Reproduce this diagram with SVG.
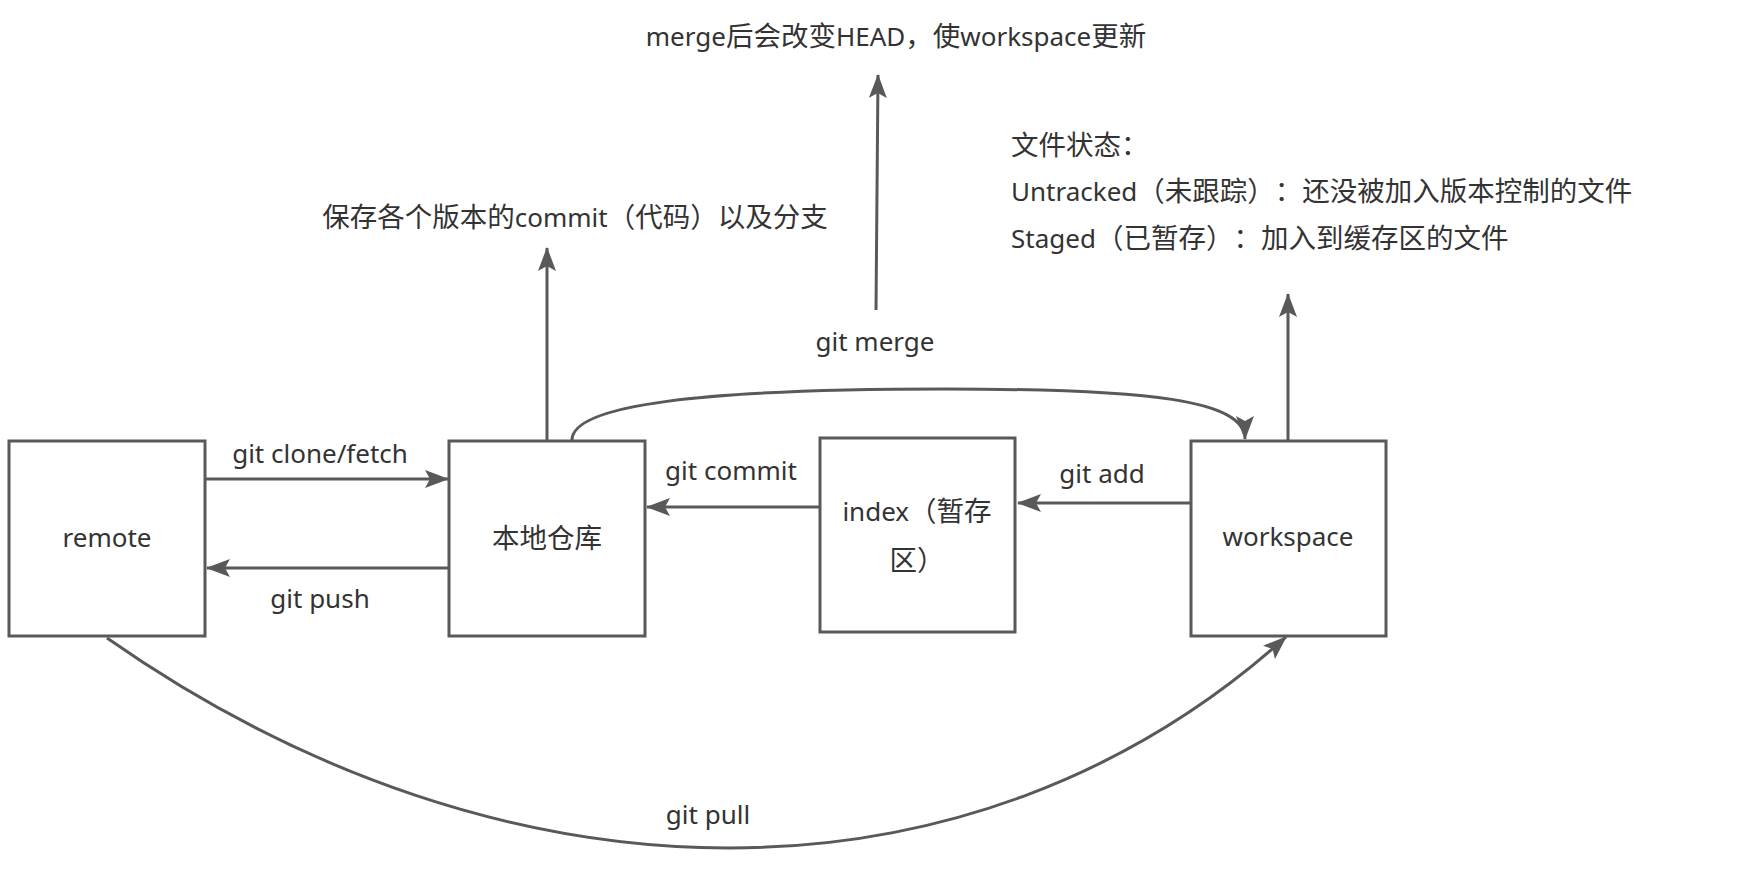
<svg xmlns="http://www.w3.org/2000/svg" width="1740" height="876" viewBox="0 0 1740 876">
<style>
.box{fill:#ffffff;stroke:#595959;stroke-width:3}
.ln{fill:none;stroke:#595959;stroke-width:3}
text{font-family:"Noto Sans","Noto Sans CJK SC",sans-serif;font-size:26px;fill:#333333;text-spacing-trim:space-all}
.c{text-anchor:middle}
.k{font-size:27.5px}
</style>
<defs>
<marker id="arr" markerUnits="userSpaceOnUse" viewBox="0 0 24 18" markerWidth="24" markerHeight="18" refX="23" refY="9" orient="auto">
<path d="M0,0 L24,9 L0,18 L5,9 Z" fill="#595959"/>
</marker>
</defs>
<rect width="1740" height="876" fill="#ffffff"/>
<g id="connectors">
<line class="ln" x1="205" y1="479" x2="448" y2="479" marker-end="url(#arr)"/>
<line class="ln" x1="449" y1="568" x2="207" y2="568" marker-end="url(#arr)"/>
<line class="ln" x1="820" y1="507" x2="647" y2="507" marker-end="url(#arr)"/>
<line class="ln" x1="1191" y1="503" x2="1018" y2="503" marker-end="url(#arr)"/>
<line class="ln" x1="547" y1="441" x2="547" y2="248" marker-end="url(#arr)"/>
<line class="ln" x1="876" y1="310" x2="878" y2="75" marker-end="url(#arr)"/>
<line class="ln" x1="1288" y1="441" x2="1288" y2="294" marker-end="url(#arr)"/>
<path class="ln" d="M572,440 C572,405 700,389 945,389 C1150,389 1245,400 1245,439" marker-end="url(#arr)"/>
<path class="ln" d="M107,638 C505,916.6 972,919.6 1286,637" marker-end="url(#arr)"/>
<text class="c" x="320" y="463">git clone/fetch</text>
<text class="c" x="320" y="608">git push</text>
<text class="c" x="731" y="480">git commit</text>
<text class="c" x="1102" y="483">git add</text>
<text class="c" x="875" y="351">git merge</text>
<text class="c" x="708" y="824">git pull</text>
</g>
<g id="remote">
<rect class="box" x="9" y="441" width="196" height="195"/>
<text class="c" x="107" y="547">remote</text>
</g>
<g id="local">
<rect class="box" x="449" y="441" width="196" height="195"/>
<text class="c k" x="547" y="548">本地仓库</text>
</g>
<g id="index">
<rect class="box" x="820" y="438" width="195" height="194"/>
<text class="c" x="917" y="521">index<tspan class="k">（暂存</tspan></text>
<text class="c k" x="917" y="570">区）</text>
</g>
<g id="workspace">
<rect class="box" x="1191" y="441" width="195" height="195"/>
<text class="c" x="1288" y="546">workspace</text>
</g>
<g id="note-merge">
<text class="c" x="896" y="46">merge<tspan class="k">后会改变</tspan>HEAD<tspan class="k">，使</tspan>workspace<tspan class="k">更新</tspan></text>
</g>
<g id="note-local">
<text class="c" x="575" y="227"><tspan class="k">保存各个版本的</tspan>commit<tspan class="k">（代码）以及分支</tspan></text>
</g>
<g id="note-workspace">
<text class="k" x="1011" y="155">文件状态：</text>
<text x="1011" y="201">Untracked<tspan class="k">（未跟踪）：还没被加入版本控制的文件</tspan></text>
<text x="1011" y="248">Staged<tspan class="k">（已暂存）：加入到缓存区的文件</tspan></text>
</g>
</svg>
